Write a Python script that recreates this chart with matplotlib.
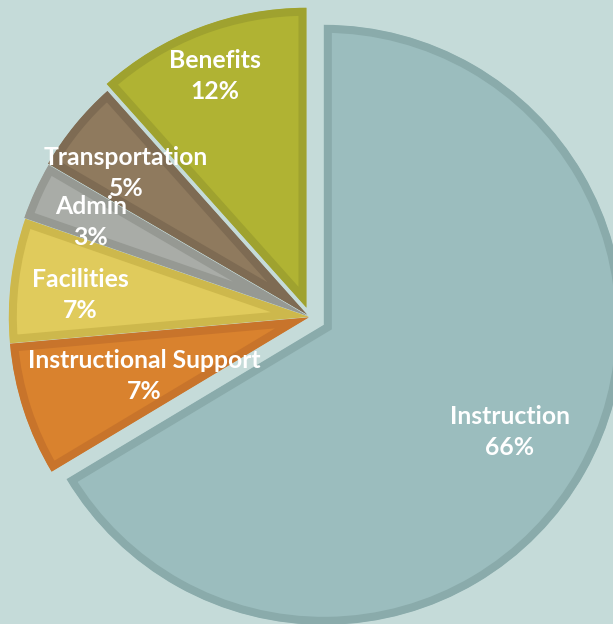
import matplotlib
matplotlib.use("Agg")
import matplotlib.pyplot as plt

# --- data ---
categories = ["Instruction", "Instructional Support", "Facilities", "Admin",
              "Transportation", "Benefits"]
shares = [66.4, 7.2, 6.7, 3.1, 5.0, 11.6]

# --- style ---
BG = "#c5dbd9"
FILL = ["#9bbdbe", "#d9822e", "#e0cb5c", "#a9aca7", "#8f7a5e", "#b0b333"]
EDGE = ["#8aabab", "#c8742b", "#cdb84c", "#969993", "#7e6b53", "#9fa22f"]
EXPLODE = [0.053, 0.004, 0.004, 0.008, 0.012, 0.033]
# label block centres in pixels of the 613x624 canvas
LABEL_PX = [(510, 432), (144, 376), (80, 295), (91, 222), (126, 173), (215, 76)]
CX, CY, R = 310, 317, 300  # pie centre and radius in pixels
W, H = 613, 624

fig = plt.figure(figsize=(W / 100, H / 100), dpi=100, facecolor=BG)
ax = fig.add_axes([0, 0, 1, 1])
ax.set_facecolor(BG)

wedges, _ = ax.pie(shares, startangle=90, counterclock=False, explode=EXPLODE,
                   colors=FILL, radius=1.0,
                   wedgeprops=dict(linewidth=16 * 0.72, joinstyle="miter"))
for w, ec in zip(wedges, EDGE):
    w.set_edgecolor(ec)
    w.set_clip_on(True)
    w.set_clip_path(w)  # keep the border inside the wedge

total = sum(shares)
for name, v, (px, py) in zip(categories, shares, LABEL_PX):
    ax.text((px - CX) / R, (CY - py) / R, f"{name}\n{v / total * 100:.0f}%",
            ha="center", va="center", color="white", fontsize=17.8,
            fontweight="bold", family=["Lato", "DejaVu Sans"], linespacing=1.45)

ax.set_xlim(-CX / R, (W - CX) / R)
ax.set_ylim(-(H - CY) / R, CY / R)
ax.set_aspect("auto")
ax.axis("off")

fig.savefig("out.png", dpi=100, facecolor=BG)
